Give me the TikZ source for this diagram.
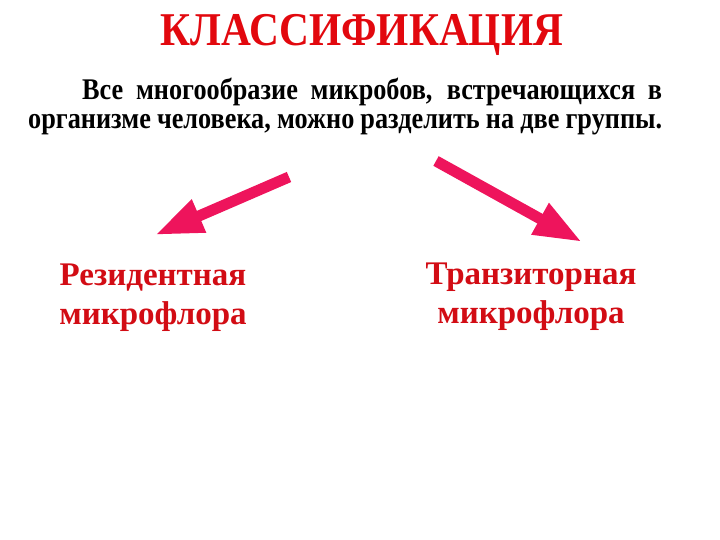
\documentclass[tikz,border=0pt]{standalone}
\usepackage{fontspec}
\setmainfont{Liberation Serif}
\newfontfamily\narrowserif{Liberation Serif}[FakeStretch=0.875]
\newfontfamily\titleserif{Liberation Serif}[FakeStretch=0.88]
\usepackage{tikz}
\usetikzlibrary{arrows.meta, positioning}
\usepackage{xcolor}
\definecolor{headred}{RGB}{226,8,14}
\definecolor{grpred}{RGB}{210,12,20}
\definecolor{arrowpink}{RGB}{238,20,92}

\begin{document}
\begin{tikzpicture}[x=1pt, y=-1pt,
  heading/.style={inner sep=0pt, anchor=base, text=headred,
    font=\titleserif\fontsize{47}{52}\selectfont\bfseries},
  lead/.style={inner sep=0pt, anchor=north west, text width=634pt, align=justify,
    font=\narrowserif\fontsize{30}{29}\selectfont\bfseries},
  group/.style={inner sep=0pt, anchor=base, align=center, text=grpred,
    font=\fontsize{33}{39}\selectfont\bfseries},
  split/.style={line width=11pt, arrowpink,
    -{Triangle[length=48pt, width=33pt]}}
]
  % Frame
  \useasboundingbox (0,0) rectangle (720,540);

  % Title and text
  \node[heading] (title) at (362,46) {КЛАССИФИКАЦИЯ};
  \node[lead] (intro) at (28,78) {\hspace*{54pt}Все многообразие микробов, встречающихся в организме человека, можно разделить на две группы.};

  % Two groups
  \node[group] (resident) at (153,324) {Резидентная\\микрофлора};
  \node[group] (transient) at (531,323) {Транзиторная\\микрофлора};

  % Arrows
  \coordinate (ltail) at (289,177); \coordinate (lhead) at (155,235);
  \coordinate (rtail) at (436,161); \coordinate (rhead) at (582,242);
  \draw[split] (ltail) -- (lhead);
  \draw[split] (rtail) -- (rhead);
\end{tikzpicture}
\end{document}
